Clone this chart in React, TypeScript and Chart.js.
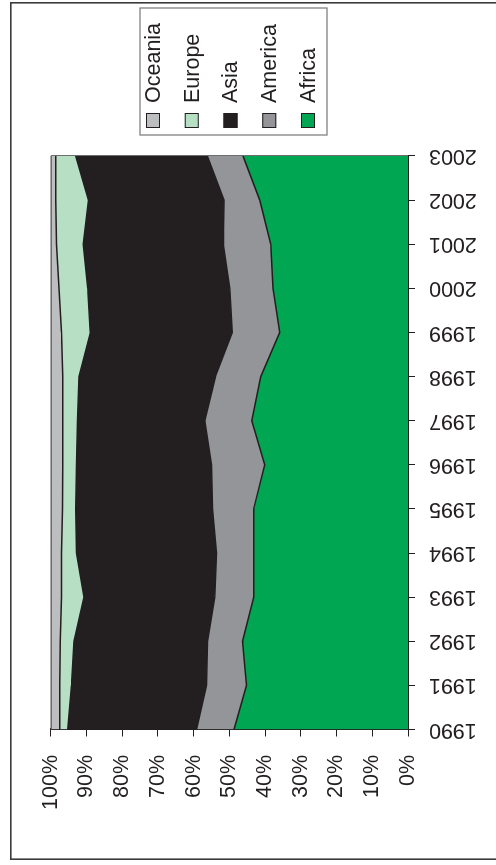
import React, { useEffect, useRef } from "react";
import { Chart, registerables } from "chart.js";

Chart.register(...registerables);

// Share of total by region, percent per year
const years = ["1990", "1991", "1992", "1993", "1994", "1995", "1996", "1997", "1998", "1999", "2000", "2001", "2002", "2003"];
const africa = [48.7, 45.2, 46.3, 43.2, 43.2, 43.2, 40.1, 43.7, 41.2, 35.9, 37.8, 38.4, 41.5, 46.2];
const america = [10.5, 11.2, 9.8, 10.9, 10.4, 11.5, 14.9, 13.2, 12.7, 13.3, 12.1, 13.3, 10.0, 10.0];
const asia = [36.0, 37.8, 37.4, 36.6, 39.2, 38.3, 37.8, 35.6, 38.2, 39.7, 39.7, 39.2, 37.9, 36.8];
const europe = [2.3, 3.3, 3.8, 6.3, 4.2, 3.7, 3.8, 4.1, 4.5, 8.1, 8.1, 7.5, 9.2, 5.6];
const oceania = [2.5, 2.5, 2.7, 3.0, 3.0, 3.3, 3.4, 3.4, 3.4, 3.0, 2.3, 1.6, 1.4, 1.4];

const regionNames = ["Africa", "America", "Asia", "Europe", "Oceania"];
const regionColors = ["#00A651", "#939598", "#231F20", "#B7DFC4", "#BCBEC0"];

const W = 858;
const H = 500;
const FONT = "'Liberation Sans', Arial, sans-serif";
const INK = "#231F20";

// Outer frame, plot frame and the legend on the right-hand side
const decorPlugin = {
  id: "decor",
  afterDraw(chart: any) {
    const ctx = chart.ctx as CanvasRenderingContext2D;
    const a = chart.chartArea;
    ctx.save();
    // plot frame (top & right edges)
    ctx.strokeStyle = "#6d6e71";
    ctx.lineWidth = 1;
    ctx.beginPath();
    ctx.moveTo(a.left, a.top + 0.5);
    ctx.lineTo(a.right + 0.5, a.top + 0.5);
    ctx.lineTo(a.right + 0.5, a.bottom);
    ctx.stroke();

    // outer frame
    ctx.strokeStyle = "#3a3a3a";
    ctx.lineWidth = 1.6;
    ctx.strokeRect(0.8, 0.8, W - 1.6, H - 1.6);

    // legend
    const bx = 725;
    const by = 130;
    const bw = 127;
    const bh = 187;
    ctx.strokeStyle = "#808285";
    ctx.lineWidth = 1.3;
    ctx.strokeRect(bx, by, bw, bh);
    ctx.font = `21.5px ${FONT}`;
    ctx.textBaseline = "middle";
    ctx.textAlign = "left";
    const ds = chart.data.datasets.slice().reverse();
    ds.forEach((d: any, i: number) => {
      const cy = 143 + i * 38.75;
      ctx.fillStyle = d.backgroundColor;
      ctx.fillRect(732, cy - 7, 15, 14);
      ctx.strokeStyle = INK;
      ctx.lineWidth = 1;
      ctx.strokeRect(732.5, cy - 6.5, 14, 13);
      ctx.fillStyle = INK;
      ctx.fillText(d.label, 757, cy + 1);
    });
    ctx.restore();
  },
};

export default function App() {
  const ref = useRef<HTMLCanvasElement | null>(null);

  useEffect(() => {
    if (!ref.current) return;
    const series = [africa, america, asia, europe, oceania];
    const chart = new Chart(ref.current, {
      type: "line",
      data: {
        labels: years,
        datasets: series.map((values, i) => ({
          label: regionNames[i],
          data: values,
          backgroundColor: regionColors[i],
          borderColor: INK,
          borderWidth: 1.5,
          fill: i === 0 ? "origin" : "-1",
          pointRadius: 0,
          tension: 0,
        })),
      },
      options: {
        responsive: false,
        animation: false,
        layout: { padding: { top: 40.7, right: W - 704, left: 0, bottom: 0 } },
        plugins: { legend: { display: false }, tooltip: { enabled: false } },
        scales: {
          x: {
            type: "category",
            offset: false,
            grid: { drawOnChartArea: false, drawTicks: true, tickLength: 7, color: INK, lineWidth: 1 },
            border: { display: true, color: INK, width: 2 },
            ticks: {
              autoSkip: false,
              minRotation: 90,
              maxRotation: 90,
              padding: 14,
              color: INK,
              font: { family: FONT, size: 21.5 },
            },
            afterFit(scale: any) {
              scale.height = H - 398;
            },
          },
          y: {
            stacked: true,
            min: 0,
            max: 100,
            grid: { drawOnChartArea: false, drawTicks: true, tickLength: 7, color: INK, lineWidth: 1 },
            border: { display: true, color: INK, width: 2 },
            ticks: {
              stepSize: 10,
              padding: 18.5,
              color: INK,
              font: { family: FONT, size: 21.5 },
              callback: (v: any) => `${v}%`,
            },
            afterFit(scale: any) {
              scale.width = 130.5;
            },
          },
        },
      },
      plugins: [decorPlugin],
    });
    return () => chart.destroy();
  }, []);

  return (
    <div style={{ position: "absolute", left: 0, top: 0, width: 496, height: 865, overflow: "hidden", background: "#fff" }}>
      <div
        style={{
          position: "absolute",
          left: 0,
          top: 0,
          width: W,
          height: H,
          transformOrigin: "0 0",
          transform: "translate(10px, 860px) rotate(-90deg)",
        }}
      >
        <canvas ref={ref} width={W} height={H} style={{ display: "block", width: W, height: H }} />
      </div>
    </div>
  );
}
